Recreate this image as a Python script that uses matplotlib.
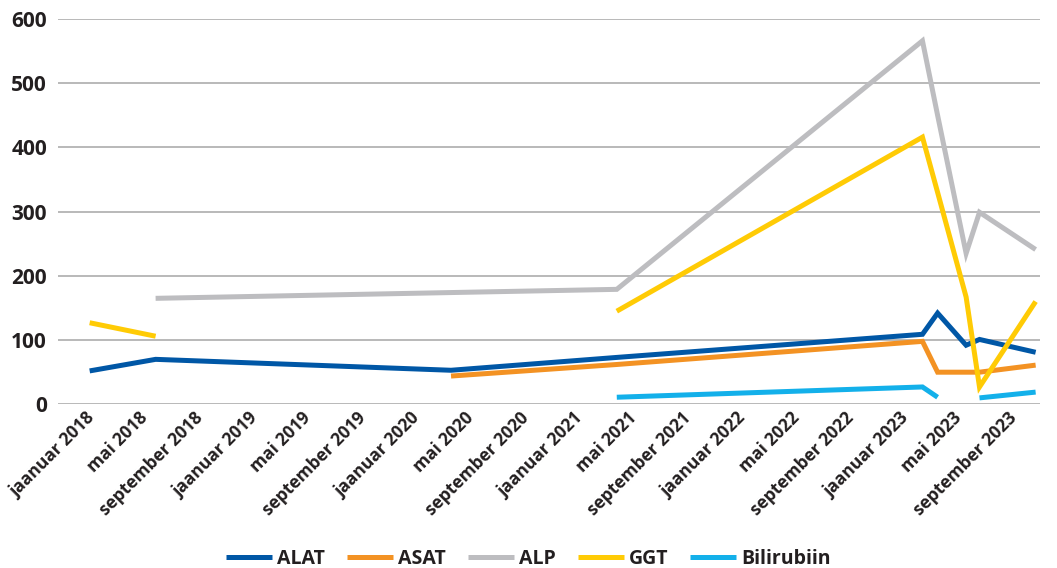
import matplotlib
matplotlib.use("Agg")
import matplotlib.pyplot as plt
import matplotlib.transforms as mtransforms
import numpy as np
import pandas as pd

# ---- data ----
dates = ["2017-12-27", "2018-05-24", "2020-03-17", "2021-03-24", "2023-02-08",
         "2023-03-14", "2023-05-17", "2023-06-16", "2023-10-20"]
alat = [52, 70, 53, 73, 109, 142, 92, 101, 81]
asat = [np.nan, np.nan, 44, 62, 98, 50, 50, 50, 61]
alp = [np.nan, 165, 174, 179, 566, 450, 235, 299, 241]
ggt = [127, 106, np.nan, 145, 416, 330, 167, 27, 160]
bilirubiin = [np.nan, np.nan, np.nan, 11, 27, 11, np.nan, 10, 19]

series_names = ["ALAT", "ASAT", "ALP", "GGT", "Bilirubiin"]
series_values = [alat, asat, alp, ggt, bilirubiin]
series_colors = ["#0057A6", "#F39223", "#BDBDC0", "#FFCB05", "#13B0EA"]

tick_dates = pd.date_range("2018-01-01", "2023-09-01", freq="4MS")
month_names = {1: "jaanuar", 5: "mai", 9: "september"}
tick_labels = [f"{month_names[d.month]} {d.year}" for d in tick_dates]
yticks = [0, 100, 200, 300, 400, 500, 600]

# ---- plot ----
plt.rcParams['font.family'] = ['Open Sans', 'DejaVu Sans']
text_color = "#231F20"

fig = plt.figure(figsize=(10.57, 5.68), dpi=100)
ax = fig.add_axes([0.0549, 0.2882, 0.984 - 0.0549, 0.9666 - 0.2882])

x = pd.to_datetime(dates)
for name, vals, col in zip(series_names, series_values, series_colors):
    ax.plot(x, vals, color=col, lw=3.6, label=name, solid_capstyle="butt",
            solid_joinstyle="miter")

ax.set_ylim(0, 600)
ax.set_yticks(yticks)
ax.set_xlim(pd.Timestamp("2017-10-17"), pd.Timestamp("2023-10-30"))
ax.set_xticks(tick_dates)
ax.set_xticklabels(tick_labels, rotation=45, ha="right", rotation_mode="anchor",
                   va="center", fontsize=12.5, fontweight="bold", color=text_color)
offset = mtransforms.ScaledTranslation(6 / 100, -6 / 100, fig.dpi_scale_trans)
for lab in ax.get_xticklabels():
    lab.set_transform(lab.get_transform() + offset)
for lab in ax.get_yticklabels():
    lab.set_fontsize(15)
    lab.set_fontweight("bold")
    lab.set_color(text_color)

ax.yaxis.grid(True, color="#A6A6A6", lw=1.1)
ax.set_axisbelow(True)
ax.tick_params(axis="both", length=0)
ax.tick_params(axis="y", pad=8)
ax.tick_params(axis="x", pad=8)
for s in ax.spines.values():
    s.set_visible(False)

leg = fig.legend(loc="center", bbox_to_anchor=(0.5, 1 - 559 / 568), ncol=5,
                 frameon=False, handlelength=2.37, handletextpad=0.26,
                 columnspacing=1.13, prop={"size": 14, "weight": "bold"})
for t in leg.get_texts():
    t.set_color(text_color)
for l in leg.get_lines():
    l.set_linewidth(3.6)

fig.savefig("out.png", dpi=100)
